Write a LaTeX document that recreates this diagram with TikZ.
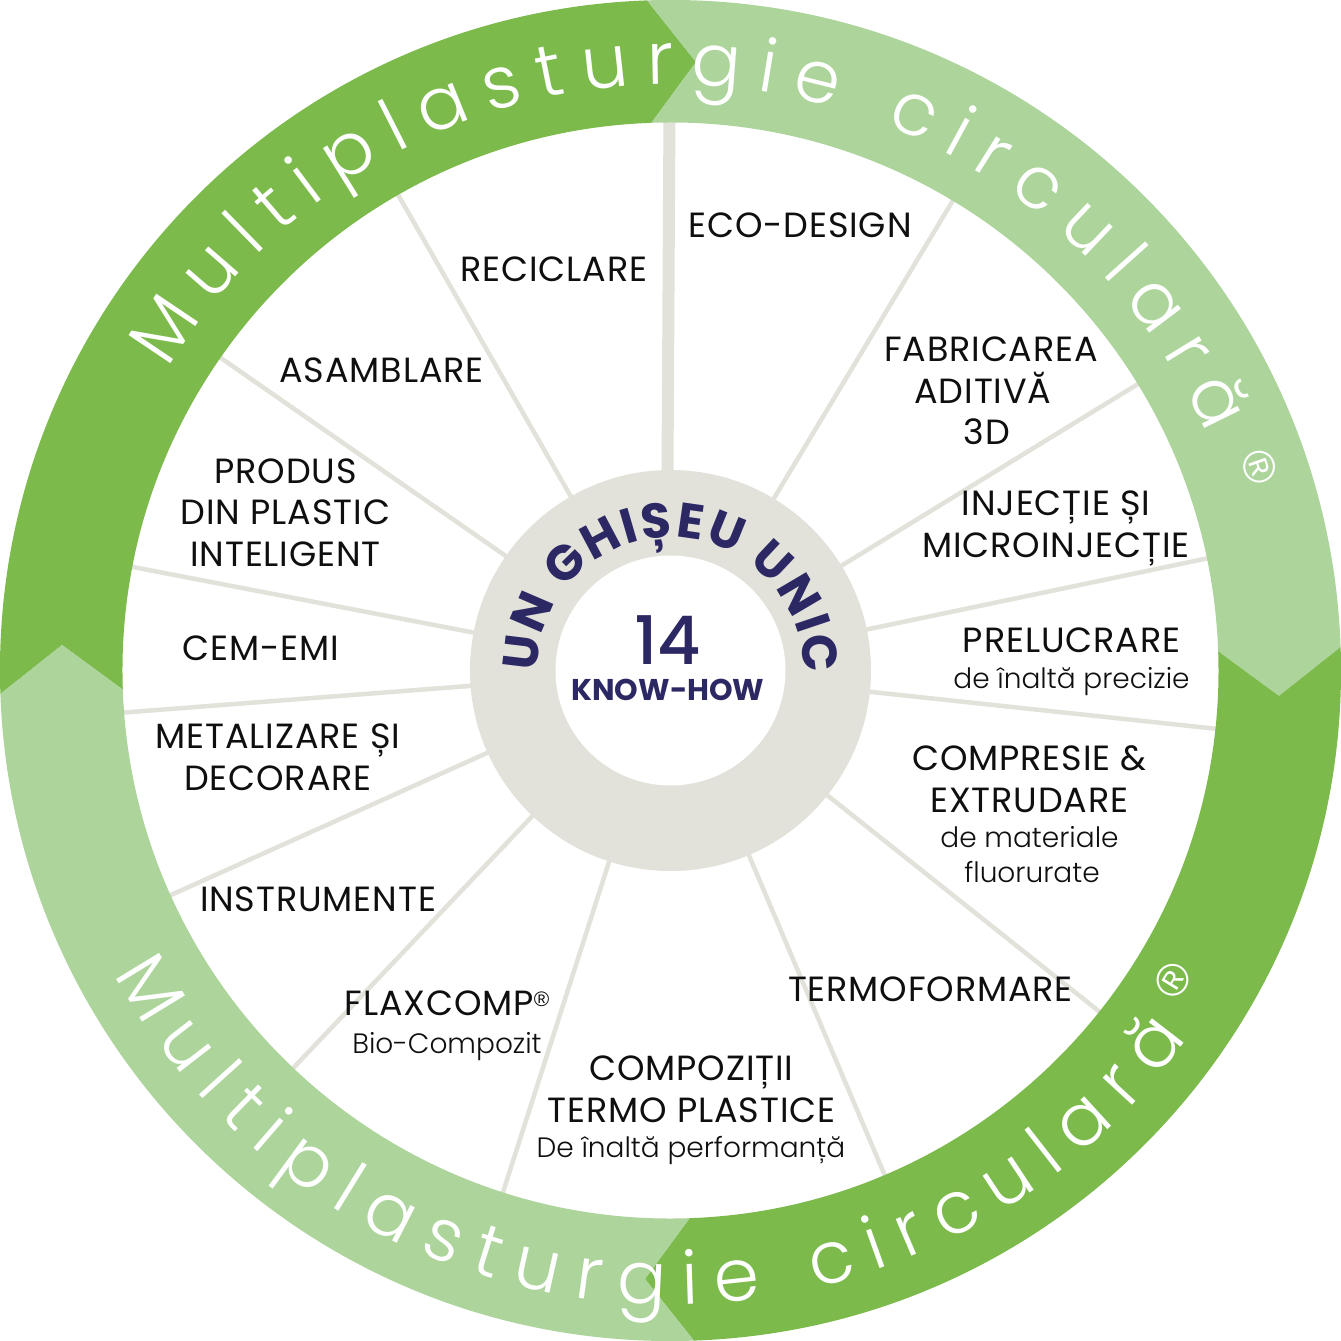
\documentclass[tikz,border=0pt]{standalone}
\usepackage{fontspec}
\setmainfont{Poppins}
\newfontfamily\lightfont{Poppins Light}
\newfontfamily\labfont{Poppins}[LetterSpace=2.5]
\newfontfamily\medfont{Poppins Medium}
\newfontfamily\regfont{Liberation Sans}
\usetikzlibrary{decorations.text}
\definecolor{dkgreen}{RGB}{124,186,76}
\definecolor{ltgreen}{RGB}{172,212,155}
\definecolor{spokegray}{RGB}{226,226,218}
\definecolor{navy}{RGB}{44,40,100}
\definecolor{ink}{RGB}{15,15,15}
\begin{document}
\begin{tikzpicture}[x=1pt,y=1pt,
  lab/.style={text=ink, inner sep=0pt, anchor=base, font=\labfont\fontsize{35}{35}\selectfont},
  sublab/.style={text=ink, inner sep=0pt, anchor=base, font=\lightfont\fontsize{28}{28}\selectfont},
  regmark/.style={text=white, inner sep=0pt, font=\regfont\fontsize{45}{45}\selectfont},
  spk/.style={draw=spokegray, line width=4.5pt},
  topspk/.style={draw=spokegray, line width=12pt},
  arctext/.style={decorate, decoration={text along path, text align={fit to path}, text color=white}},
]
\useasboundingbox (-670.5,-670.5) rectangle (670.5,670.5);
\fill[white] (-670.5,-670.5) rectangle (670.5,670.5);

% spokes
\foreach \a in {59,31.5,11.8,-6.1,-38.5,-67,-107.8,-133.5,-155.8,-175.6,169.1,145.2,119.8}
  \draw[spk] (\a:195) -- (\a:560);
\draw[topspk] (-1,560) -- (-3,195);

% central ring
\fill[spokegray] (0,0) circle (200.5);
\fill[white] (0,0) circle (115);

% outer ring segments (each ends with a clockwise-pointing chevron)
\def\seg#1#2#3{%
  \fill[#3] ({#1+2}:670.5) arc[start angle={#1+2}, end angle={#2+2}, radius=670.5]
     -- ({#2-2.4}:609) -- ({#2+2}:548)
     arc[start angle={#2+2}, end angle={#1+2}, radius=548]
     -- ({#1-2.4}:609) -- cycle;}
\seg{180}{90}{dkgreen}
\seg{90}{0}{ltgreen}
\seg{0}{-90}{dkgreen}
\seg{-90}{-180}{ltgreen}

% ring texts
\path[arctext, decoration={text={|\lightfont\fontsize{73}{73}\selectfont|Multiplasturgie circulară}}]
  (149:586) arc[start angle=149, end angle=23.8, radius=586];
\path[arctext, decoration={text={|\lightfont\fontsize{73}{73}\selectfont|Multiplasturgie circulară}}]
  (208.6:634) arc[start angle=208.6, end angle=324.6, radius=634];
\node[regmark, rotate=-71] (regtop) at (589.5,203.5) {®};
\node[regmark, rotate=58.4] (regbot) at (502.5,-309.5) {®};

% centre
\path[decorate, decoration={text along path, text align={fit to path}, text color=navy,
  text={|\bfseries\fontsize{49}{49}\selectfont|UN GHIȘEU UNIC}}]
  (180.5:133) arc[start angle=180.5, end angle=-1.5, radius=133];
\node[text=navy, inner sep=0pt, anchor=base, font=\medfont\fontsize{67}{67}\selectfont] (num) at (-3,5.5) {14};
\node[text=navy, inner sep=0pt, anchor=base, font=\bfseries\fontsize{30}{30}\selectfont] (know) at (-2.5,-30.5) {KNOW-HOW};

% labels (pixel coordinates of the reference)
\begin{scope}[shift={(-670.5,670.5)}, yscale=-1]
\node[lab] (recic) at (554,282) {RECICLARE};
\node[lab] (eco) at (800,238) {ECO-DESIGN};
\node[lab] (fabA) at (991,362) {FABRICAREA};
\node[lab] (fabB) at (983,404) {ADITIVĂ};
\node[lab] (fabC) at (987,445) {3D};
\node[lab] (injA) at (1056,516) {INJECȚIE ȘI};
\node[lab] (injB) at (1056,558) {MICROINJECȚIE};
\node[lab] (prelA) at (1071.5,653) {PRELUCRARE};
\node[sublab] (prelB) at (1071.5,688) {de înaltă precizie};
\node[lab] (compA) at (1029.5,770) {COMPRESIE \&};
\node[lab] (compB) at (1029.5,812) {EXTRUDARE};
\node[sublab] (compC) at (1029.5,847) {de materiale};
\node[sublab] (compD) at (1032,882) {fluorurate};
\node[lab] (termo) at (930.5,1001) {TERMOFORMARE};
\node[lab] (cpzA) at (691.5,1080) {COMPOZIȚII};
\node[lab] (cpzB) at (691.5,1122) {TERMO PLASTICE};
\node[sublab] (cpzC) at (691,1157) {De înaltă performanță};
\node[lab] (flaxA) at (447,1015) {FLAXCOMP\raisebox{9pt}{\regfont\fontsize{21}{21}\selectfont ®}};
\node[sublab] (flaxB) at (447,1053) {Bio-Compozit};
\node[lab] (instr) at (318,911) {INSTRUMENTE};
\node[lab] (metaA) at (278,748) {METALIZARE ȘI};
\node[lab] (metaB) at (278,790) {DECORARE};
\node[lab] (cem) at (260.5,661) {CEM-EMI};
\node[lab] (prodA) at (285.5,484) {PRODUS};
\node[lab] (prodB) at (285.5,525) {DIN PLASTIC};
\node[lab] (prodC) at (285.5,567) {INTELIGENT};
\node[lab] (asam) at (381.5,383) {ASAMBLARE};
\end{scope}
\end{tikzpicture}
\end{document}
